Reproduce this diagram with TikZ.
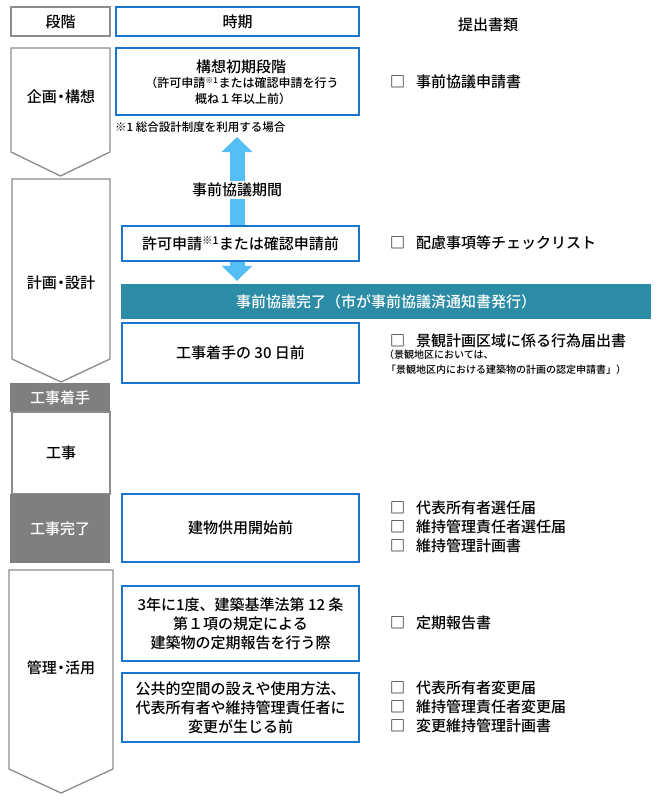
\documentclass[tikz,border=0pt]{standalone}
\usepackage{fontspec}
\setmainfont{Noto Sans CJK JP}[UprightFont={* Medium},BoldFont={* Bold}]
\usetikzlibrary{arrows.meta,backgrounds}
\definecolor{bblue}{HTML}{1A75CF}
\definecolor{cgray}{HTML}{8C8C8C}
\definecolor{dgray}{HTML}{7F7F7F}
\definecolor{tealbar}{HTML}{2C8CA6}
\definecolor{lblue}{HTML}{55BEF5}
\newcommand{\nakaguro}{\kern-3.5pt・\kern-3.5pt}
\begin{document}
\begin{tikzpicture}[x=1pt,y=-1pt,
  fnt/.style={font=\fontsize{15}{19}\selectfont},
  bluebox/.style={fnt, draw=bblue, line width=1.5pt, minimum width=237pt, inner sep=0pt, align=center},
  graybox/.style={fnt, draw=cgray, line width=1.3pt, inner sep=0pt, align=center},
  darkbox/.style={fnt, fill=dgray, text=white, inner sep=0pt, minimum width=100pt},
  chev/.style={draw=cgray, line width=1.3pt, fill=white},
  lab/.style={fnt, inner sep=0pt},
  check/.style={fnt, anchor=west, inner sep=0pt},
  smalltxt/.style={font=\fontsize{10}{12}\selectfont, anchor=west, inner sep=0pt},
  arr/.style={lblue, line width=15pt, -{Triangle[width=30pt,length=15pt]}}]
\useasboundingbox (0,0) rectangle (671,800);

% header
\node[graybox, minimum width=99pt, minimum height=29pt] (hdstage) at (60.5,21.5) {段階};
\node[bluebox, minimum width=243pt, minimum height=29pt] (hdtime) at (237.5,21.5) {時期};
\node[lab] (hddoc) at (488,25) {提出書類};

% left column
\draw[chev] (11,48) -- (110,48) -- (110,152) -- (60.5,176) -- (11,152) -- cycle;
\node[lab] (stg1) at (61,97) {企画\nakaguro 構想};
\draw[chev] (12,179) -- (110,179) -- (110,359) -- (61,382) -- (12,359) -- cycle;
\node[lab] (stg2) at (61,283) {計画\nakaguro 設計};
\node[darkbox, minimum height=29pt] (stg3) at (60,397.5) {工事着手};
\node[graybox, minimum width=98pt, minimum height=82pt] (stg4) at (61,453) {工事};
\node[darkbox, minimum height=69pt] (stg5) at (60,528.5) {工事完了};
\draw[chev] (9,570) -- (113,570) -- (113,769) -- (61,793) -- (9,769) -- cycle;
\node[lab] (stg6) at (61,668) {管理\nakaguro 活用};

% arrows
\coordinate (atip) at (237,137);
\node[bluebox, fill=white, minimum height=35pt] (kyoka) at (240.5,243.5) {許可申請\textsuperscript{※1}または確認申請前};
\node[fnt, fill=tealbar, text=white, minimum width=530pt, minimum height=35pt, inner sep=0pt] (teal) at (386,301.5) {事前協議完了（市が事前協議済通知書発行）};
\begin{scope}[on background layer]
\fill[white] (0,0) rectangle (671,800);
\draw[arr] (kyoka.north -| atip) -- (atip);
\draw[arr, shorten >=3pt] (kyoka.south -| atip) -- (teal.north -| atip);
\end{scope}
\node[lab, fill=white, inner sep=2pt] (period) at (237,190) {事前協議期間};

% time boxes
\node[bluebox, minimum width=243pt, minimum height=67pt] (b1) at (237.5,81.5) {};
\node[lab] (b1a) at (241,67) {構想初期段階};
\node[lab, font=\fontsize{12}{14}\selectfont] (b1b) at (242,83) {（許可申請\textsuperscript{※1}または確認申請を行う};
\node[lab, font=\fontsize{12}{14}\selectfont] (b1c) at (243,99) {概ね１年以上前）};
\node[anchor=west, inner sep=0pt, font=\fontsize{11.5}{13}\selectfont] (note) at (115,127) {※1 総合設計制度を利用する場合};
\node[bluebox, minimum height=60pt] (b30) at (240.5,353) {工事着手の 30 日前};
\node[bluebox, minimum height=68pt] (bopen) at (240.5,528) {建物供用開始前};
\node[bluebox, minimum height=75pt] (bteiki) at (240.5,623.5) {3年に1度、建築基準法第 12 条\\第１項の規定による\\建築物の定期報告を行う際};
\node[bluebox, minimum height=69pt] (bchg) at (240.5,707.5) {公共的空間の設えや使用方法、\\代表所有者や維持管理責任者に\\変更が生じる前};

% documents
\node[check] (d1) at (390,82) {□\hspace{11pt}事前協議申請書};
\node[check] (d2) at (390,243) {□\hspace{11pt}配慮事項等チェックリスト};
\node[check] (d3) at (390,341) {□\hspace{11pt}景観計画区域に係る行為届出書};
\node[smalltxt] (d3a) at (384,355) {（景観地区においては、};
\node[smalltxt] (d3b) at (386,370) {「景観地区内における建築物の計画の認定申請書」）};
\node[check] (d4) at (390,508) {□\hspace{11pt}代表所有者選任届};
\node[check] (d5) at (390,527) {□\hspace{11pt}維持管理責任者選任届};
\node[check] (d6) at (390,546) {□\hspace{11pt}維持管理計画書};
\node[check] (d7) at (390,623) {□\hspace{11pt}定期報告書};
\node[check] (d8) at (390,688) {□\hspace{11pt}代表所有者変更届};
\node[check] (d9) at (390,707) {□\hspace{11pt}維持管理責任者変更届};
\node[check] (d10) at (390,726) {□\hspace{11pt}変更維持管理計画書};
\end{tikzpicture}
\end{document}
